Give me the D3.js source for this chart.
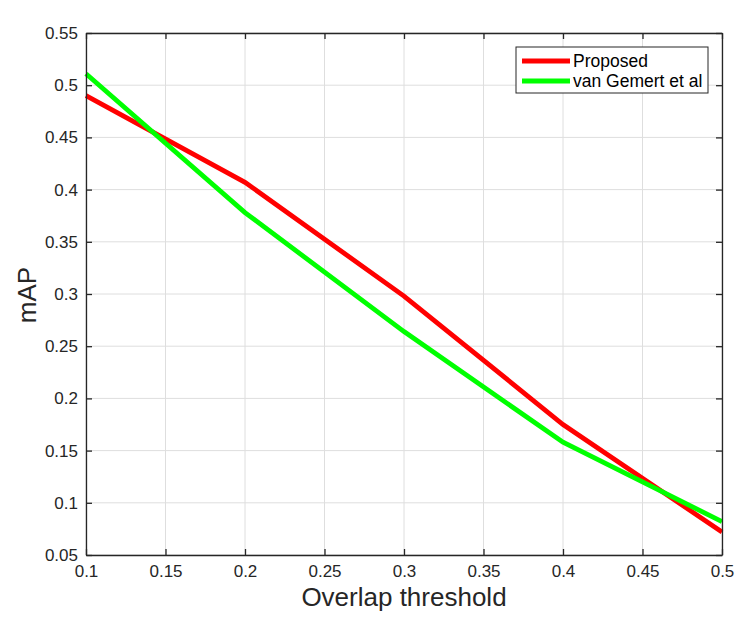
<!DOCTYPE html>
<html><head><meta charset="utf-8">
<script src="https://cdn.jsdelivr.net/npm/d3@7"></script>
<style>body{margin:0;background:#fff;} text{font-family:"Liberation Sans",Arial,Helvetica,sans-serif;}</style>
</head><body>
<svg id="c" width="750" height="619"></svg>
<script>
const thresholds = [0.1, 0.2, 0.3, 0.4, 0.5];
const proposed = [0.490, 0.407, 0.298, 0.175, 0.072];
const vanGemert = [0.511, 0.378, 0.264, 0.158, 0.082];
const seriesNames = ["Proposed", "van Gemert et al"];
const seriesColors = ["#ff0000", "#00ff00"];
const xTicks = [0.1, 0.15, 0.2, 0.25, 0.3, 0.35, 0.4, 0.45, 0.5];
const yTicks = [0.05, 0.1, 0.15, 0.2, 0.25, 0.3, 0.35, 0.4, 0.45, 0.5, 0.55];

const svg = d3.select("#c");
const L = 86, R = 722, T = 33, B = 555;
const x = d3.scaleLinear().domain([0.1, 0.5]).range([L, R]);
const y = d3.scaleLinear().domain([0.05, 0.55]).range([B, T]);
const fmt = d => String(+d.toFixed(2));
const axisColor = "#262626";

// grid
svg.append("g").selectAll("line").data(xTicks).join("line")
  .attr("x1", d => x(d)).attr("x2", d => x(d)).attr("y1", T).attr("y2", B)
  .attr("stroke", "#dedede").attr("stroke-width", 1);
svg.append("g").selectAll("line").data(yTicks).join("line")
  .attr("y1", d => y(d)).attr("y2", d => y(d)).attr("x1", L).attr("x2", R)
  .attr("stroke", "#dedede").attr("stroke-width", 1);

// lines
const line = d3.line().x((d, i) => x(thresholds[i])).y(d => y(d));
[proposed, vanGemert].forEach((s, k) => {
  svg.append("path").datum(s).attr("d", line).attr("fill", "none")
    .attr("stroke", seriesColors[k]).attr("stroke-width", 4.8)
    .attr("stroke-linejoin", "miter");
});

// axes
function styleAxis(g) {
  g.select(".domain").attr("stroke", axisColor).attr("stroke-width", 1.3);
  g.selectAll(".tick line").attr("stroke", axisColor).attr("stroke-width", 1.3);
  g.selectAll("text").attr("fill", axisColor).style("font-size", "17px")
    .style("font-family", "'Liberation Sans',Arial,sans-serif");
}
const xb = svg.append("g").attr("transform", `translate(0,${B})`)
  .call(d3.axisBottom(x).tickValues(xTicks).tickFormat(fmt).tickSizeInner(-6).tickSizeOuter(0).tickPadding(10));
styleAxis(xb);
const xt = svg.append("g").attr("transform", `translate(0,${T})`)
  .call(d3.axisTop(x).tickValues(xTicks).tickFormat("").tickSizeInner(-6).tickSizeOuter(0));
styleAxis(xt);
const yl = svg.append("g").attr("transform", `translate(${L},0)`)
  .call(d3.axisLeft(y).tickValues(yTicks).tickFormat(fmt).tickSizeInner(-6).tickSizeOuter(0).tickPadding(8));
styleAxis(yl);
const yr = svg.append("g").attr("transform", `translate(${R},0)`)
  .call(d3.axisRight(y).tickValues(yTicks).tickFormat("").tickSizeInner(-6).tickSizeOuter(0));
styleAxis(yr);

// axis titles
svg.append("text").attr("x", (L + R) / 2).attr("y", 606).attr("text-anchor", "middle")
  .attr("fill", axisColor).style("font-size", "26px").text("Overlap threshold");
svg.append("text").attr("transform", `translate(36,${(T + B) / 2 + 1}) rotate(-90)`)
  .attr("text-anchor", "middle").attr("fill", axisColor).style("font-size", "26px").text("mAP");

// legend
const lg = svg.append("g");
lg.append("rect").attr("x", 516).attr("y", 47).attr("width", 192).attr("height", 46)
  .attr("fill", "#fff").attr("stroke", axisColor).attr("stroke-width", 1);
seriesNames.forEach((n, i) => {
  const yy = 61 + i * 20;
  lg.append("line").attr("x1", 522).attr("x2", 570).attr("y1", yy).attr("y2", yy)
    .attr("stroke", seriesColors[i]).attr("stroke-width", 4.8);
  lg.append("text").attr("x", 573).attr("y", yy + 6).attr("fill", "#000")
    .style("font-size", "17.5px").text(n);
});
</script>
</body></html>
